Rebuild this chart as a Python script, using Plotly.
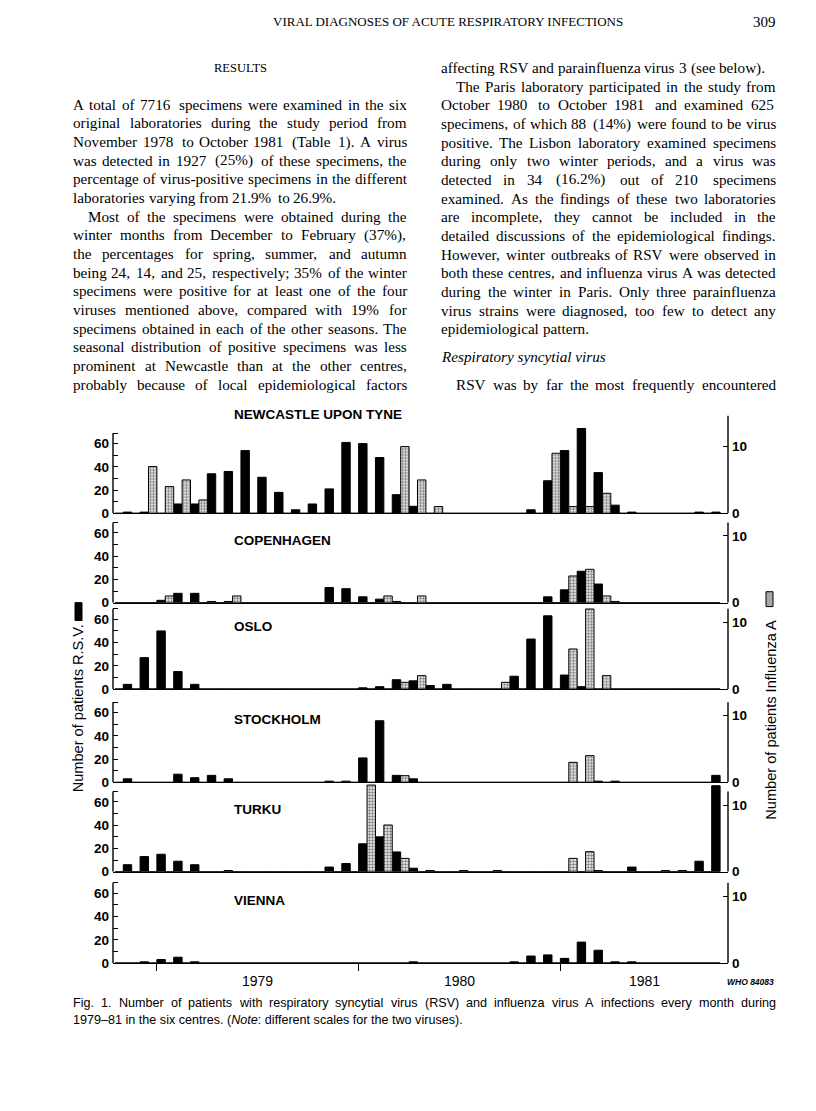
import plotly.graph_objects as go

W, H = 816, 1111

MONTH_NAMES = ["Jan", "Feb", "Mar", "Apr", "May", "Jun", "Jul", "Aug", "Sep", "Oct", "Nov", "Dec"]
MONTHS = [f"{MONTH_NAMES[(10 + i) % 12]} {1978 + (10 + i) // 12}" for i in range(36)]
YEAR_LABELS = ["1979", "1980", "1981"]

CENTRES = ["NEWCASTLE UPON TYNE", "COPENHAGEN", "OSLO", "STOCKHOLM", "TURKU", "VIENNA"]

RSV_NEWCASTLE = [1, 1, 0, 8, 8, 34, 36, 54, 31, 18, 3, 8, 21, 61, 60, 48, 16, 6, 0, 0,
                 0, 0, 0, 0, 3, 28, 54, 73, 35, 7, 1, 0, 0, 0, 1, 1]
FLU_NEWCASTLE = [0, 0, 7, 4, 5, 2, 0, 0, 0, 0, 0, 0, 0, 0, 0, 0, 0, 10, 5, 1,
                 0, 0, 0, 0, 0, 0, 9, 1, 1, 3, 0, 0, 0, 0, 0, 0]
RSV_COPENHAGEN = [0, 0, 2, 8, 8, 1, 1, 0, 0, 0, 0, 0, 13, 12, 5, 3, 1, 0, 0, 0,
                  0, 0, 0, 0, 0, 5, 11, 27, 16, 1, 0, 0, 0, 0, 0, 0]
FLU_COPENHAGEN = [0, 0, 0, 1, 0, 0, 0, 1, 0, 0, 0, 0, 0, 0, 0, 0, 1, 0, 1, 0,
                  0, 0, 0, 0, 0, 0, 0, 4, 5, 1, 0, 0, 0, 0, 0, 0]
RSV_OSLO = [4, 27, 50, 15, 4, 0, 0, 0, 0, 0, 0, 0, 0, 0, 1, 2, 8, 7, 3, 4,
            0, 0, 0, 11, 43, 63, 12, 2, 0, 0, 0, 0, 0, 0, 0, 0]
FLU_OSLO = [0, 0, 0, 0, 0, 0, 0, 0, 0, 0, 0, 0, 0, 0, 0, 0, 0, 1, 2, 0,
            0, 0, 0, 1, 0, 0, 0, 6, 12, 2, 0, 0, 0, 0, 0, 0]
RSV_STOCKHOLM = [3, 0, 0, 7, 4, 6, 3, 0, 0, 0, 0, 0, 1, 1, 21, 53, 6, 3, 0, 0,
                 0, 0, 0, 0, 0, 0, 0, 0, 1, 1, 0, 0, 0, 0, 0, 6]
FLU_STOCKHOLM = [0, 0, 0, 0, 0, 0, 0, 0, 0, 0, 0, 0, 0, 0, 0, 0, 0, 1, 0, 0,
                 0, 0, 0, 0, 0, 0, 0, 3, 4, 0, 0, 0, 0, 0, 0, 0]
RSV_TURKU = [6, 13, 15, 9, 6, 0, 1, 0, 0, 0, 0, 0, 4, 7, 24, 30, 17, 3, 1, 0,
             1, 0, 1, 0, 0, 0, 0, 0, 1, 0, 4, 0, 1, 1, 9, 74]
FLU_TURKU = [0, 0, 0, 0, 0, 0, 0, 0, 0, 0, 0, 0, 0, 0, 0, 13, 7, 2, 0, 0,
             0, 0, 0, 0, 0, 0, 0, 2, 3, 0, 0, 0, 0, 0, 0, 0]
RSV_VIENNA = [0, 1, 3, 5, 1, 0, 0, 0, 0, 0, 0, 0, 0, 0, 0, 0, 0, 1, 0, 0,
              0, 0, 0, 1, 6, 7, 4, 18, 11, 1, 1, 0, 0, 0, 0, 0]
FLU_VIENNA = [0] * 36

RSV = [RSV_NEWCASTLE, RSV_COPENHAGEN, RSV_OSLO, RSV_STOCKHOLM, RSV_TURKU, RSV_VIENNA]
FLU = [FLU_NEWCASTLE, FLU_COPENHAGEN, FLU_OSLO, FLU_STOCKHOLM, FLU_TURKU, FLU_VIENNA]

# ---------------- page text ----------------
HEADER = "VIRAL DIAGNOSES OF ACUTE RESPIRATORY INFECTIONS"
PAGE_NO = "309"
LEFT_HEAD = "RESULTS"
LEFT_LINES = [
    "A total of 7716 specimens were examined in the six",
    "original laboratories during the study period from",
    "November 1978 to October 1981 (Table 1). A virus",
    "was detected in 1927 (25%) of these specimens, the",
    "percentage of virus-positive specimens in the different",
    "laboratories varying from 21.9% to 26.9%.",
    "Most of the specimens were obtained during the",
    "winter months from December to February (37%),",
    "the percentages for spring, summer, and autumn",
    "being 24, 14, and 25, respectively; 35% of the winter",
    "specimens were positive for at least one of the four",
    "viruses mentioned above, compared with 19% for",
    "specimens obtained in each of the other seasons. The",
    "seasonal distribution of positive specimens was less",
    "prominent at Newcastle than at the other centres,",
    "probably because of local epidemiological factors",
]
LEFT_INDENT = [6]
LEFT_LAST = [5]
RIGHT_LINES = [
    "affecting RSV and parainfluenza virus 3 (see below).",
    "The Paris laboratory participated in the study from",
    "October 1980 to October 1981 and examined 625",
    "specimens, of which 88 (14%) were found to be virus",
    "positive. The Lisbon laboratory examined specimens",
    "during only two winter periods, and a virus was",
    "detected in 34 (16.2%) out of 210 specimens",
    "examined. As the findings of these two laboratories",
    "are incomplete, they cannot be included in the",
    "detailed discussions of the epidemiological findings.",
    "However, winter outbreaks of RSV were observed in",
    "both these centres, and influenza virus A was detected",
    "during the winter in Paris. Only three parainfluenza",
    "virus strains were diagnosed, too few to detect any",
    "epidemiological pattern.",
]
RIGHT_INDENT = [1]
RIGHT_LAST = [0, 14]
RIGHT_HEAD = "Respiratory syncytial virus"
RIGHT_FINAL = "RSV was by far the most frequently encountered"
CAPTION_1 = "Fig. 1. Number of patients with respiratory syncytial virus (RSV) and influenza virus A infections every month during"
CAPTION_2 = "1979\u201381 in the six centres. (<i>Note</i>: different scales for the two viruses)."

# ---------------- layout geometry (pixels) ----------------
X_LEFT, X_RIGHT = 113, 728
BASELINES = [517, 607, 694, 788, 878, 970]
PX_PER_UNIT = 1.17
Y_TOP = 85
AX_TOP = 69
FLU_RATIO = 57.4
RIGHT_TOPS = [84, 69, 69, 69, 69, 69]
X_RANGE = [-0.61, 35.97]

SANS = "Liberation Sans, Arial, sans-serif"
SERIF = "Liberation Serif, Times New Roman, serif"

# approximate advance widths (1/1000 em)
SERIF_W = {' ': 250, '!': 333, '%': 833, '(': 333, ')': 333, ',': 250, '-': 333, '.': 250, '/': 278,
           ':': 278, ';': 278, '?': 444, '\u2013': 500,
           'A': 722, 'B': 667, 'C': 667, 'D': 722, 'E': 611, 'F': 556, 'G': 722, 'H': 722, 'I': 333,
           'J': 389, 'K': 722, 'L': 611, 'M': 889, 'N': 722, 'O': 722, 'P': 556, 'Q': 722, 'R': 667,
           'S': 556, 'T': 611, 'U': 722, 'V': 722, 'W': 944, 'X': 722, 'Y': 722, 'Z': 611,
           'a': 444, 'b': 500, 'c': 444, 'd': 500, 'e': 444, 'f': 333, 'g': 500, 'h': 500, 'i': 278,
           'j': 278, 'k': 500, 'l': 278, 'm': 778, 'n': 500, 'o': 500, 'p': 500, 'q': 500, 'r': 333,
           's': 389, 't': 278, 'u': 500, 'v': 500, 'w': 722, 'x': 500, 'y': 500, 'z': 444}
SANS_W = {' ': 278, '!': 278, '%': 889, '(': 333, ')': 333, ',': 278, '-': 333, '.': 278, '/': 278,
          ':': 278, ';': 278, '\u2013': 556,
          'A': 667, 'B': 667, 'C': 722, 'D': 722, 'E': 667, 'F': 611, 'G': 778, 'H': 722, 'I': 278,
          'J': 500, 'K': 667, 'L': 556, 'M': 833, 'N': 722, 'O': 778, 'P': 667, 'Q': 778, 'R': 722,
          'S': 667, 'T': 611, 'U': 722, 'V': 667, 'W': 944, 'X': 667, 'Y': 667, 'Z': 611,
          'a': 556, 'b': 556, 'c': 500, 'd': 556, 'e': 556, 'f': 278, 'g': 556, 'h': 556, 'i': 222,
          'j': 222, 'k': 500, 'l': 222, 'm': 833, 'n': 556, 'o': 556, 'p': 556, 'q': 556, 'r': 333,
          's': 500, 't': 278, 'u': 556, 'v': 500, 'w': 722, 'x': 500, 'y': 500, 'z': 500}


def tw(s, size, table):
    s = s.replace("<i>", "").replace("</i>", "")
    return sum(table.get(c, 556) for c in s) / 1000 * size


def px(x):
    return x / W


def py(y):
    return 1 - y / H


fig = go.Figure()
idx = list(range(len(MONTHS)))
layout = dict(
    width=W, height=H, margin=dict(l=0, r=0, t=0, b=0),
    paper_bgcolor="white", plot_bgcolor="rgba(0,0,0,0)",
    showlegend=False, barmode="overlay",
    font=dict(family=SANS, color="black", size=13),
)
shapes = []
annotations = []


def ann(s, x, y, anchor="left", font=None, **kw):
    d = dict(text=s, x=px(x), y=py(y), xref="paper", yref="paper", xanchor=anchor,
             yanchor="middle", showarrow=False, borderpad=0, borderwidth=0, font=font)
    d.update(kw)
    annotations.append(d)


def line_words(s, x0, x1, y, size, family, table, justify=True, indent=0.0):
    words = s.split(" ")
    widths = [tw(w, size, table) for w in words]
    space = table[' '] / 1000 * size
    if justify and len(words) > 1:
        gap = (x1 - x0 - indent - sum(widths)) / (len(words) - 1)
        gap = max(gap, space * 0.6)
    else:
        gap = space
    x = x0 + indent
    for w, wd in zip(words, widths):
        ann(w, x, y, "left", dict(family=family, size=size, color="black"))
        x += wd + gap


TICKFONT = dict(family=SANS, size=13.5, color="black", weight="bold")

for p in range(6):
    xa = "x" if p == 0 else f"x{p + 1}"
    yl_n = 2 * p + 1
    yr_n = 2 * p + 2
    yl = "y" if yl_n == 1 else f"y{yl_n}"
    yr = f"y{yr_n}"
    b = BASELINES[p]
    dom = [py(b), py(b - Y_TOP * PX_PER_UNIT)]

    fig.add_trace(go.Bar(
        x=[i - 0.25 for i in idx], y=FLU[p], width=0.5, xaxis=xa, yaxis=yr,
        marker=dict(color="white",
                    pattern=dict(shape=".", fgcolor="black", bgcolor="white", size=3, solidity=0.55),
                    line=dict(color="black", width=1)),
        hovertext=MONTHS, name="Influenza A"))
    fig.add_trace(go.Bar(
        x=[i + 0.25 for i in idx], y=RSV[p], width=0.5, xaxis=xa, yaxis=yl,
        marker=dict(color="black", line=dict(color="black", width=1)),
        hovertext=MONTHS, name="RSV"))

    xkey = "xaxis" if p == 0 else f"xaxis{p + 1}"
    xd = dict(domain=[px(X_LEFT), px(X_RIGHT)], range=X_RANGE, anchor=yl,
              showline=True, linecolor="black", linewidth=1.4, showgrid=False,
              zeroline=False, showticklabels=False, ticks="", fixedrange=True)
    if p == 5:
        jan = [MONTHS.index(f"Jan {y}") for y in YEAR_LABELS]
        xd.update(ticks="outside", tickvals=jan, ticklen=7, tickwidth=1.4, tickcolor="black")
    layout[xkey] = xd

    ylkey = "yaxis" if yl_n == 1 else f"yaxis{yl_n}"
    layout[ylkey] = dict(
        domain=dom, range=[0, Y_TOP], anchor=xa, showgrid=False, zeroline=False,
        showline=False, ticks="inside", ticklen=5, tickwidth=1.3, tickcolor="black",
        tickvals=[0, 10, 20, 30, 40, 50, 60, AX_TOP],
        ticktext=["0", "", "20", "", "40", "", "60", ""],
        tickfont=TICKFONT, ticklabelstandoff=3)
    layout[f"yaxis{yr_n}"] = dict(
        overlaying=yl, side="right", anchor=xa, range=[0, Y_TOP * 10 / FLU_RATIO],
        showgrid=False, zeroline=False, showline=False, ticks="inside", ticklen=5,
        tickwidth=1.3, tickcolor="black", tickvals=[0, 10], ticktext=["0", "10"],
        tickfont=TICKFONT, ticklabelstandoff=3)

    shapes.append(dict(type="line", xref="paper", yref=yl, x0=px(X_LEFT), x1=px(X_LEFT),
                       y0=0, y1=AX_TOP, line=dict(color="black", width=1.4)))
    shapes.append(dict(type="line", xref="paper", yref=yl, x0=px(X_RIGHT), x1=px(X_RIGHT),
                       y0=0, y1=RIGHT_TOPS[p], line=dict(color="black", width=1.4)))

    ty = 418 if p == 0 else b - 63
    ann(f"<b>{CENTRES[p]}</b>", 234, ty, "left", dict(family=SANS, size=13.5, color="black"))

# year labels centred on each year's months
for y in YEAR_LABELS:
    ms = [i for i, m in enumerate(MONTHS) if m.endswith(y)]
    annotations.append(dict(text=y, x=sum(ms) / len(ms) + 0.5, y=py(988), xref="x6", yref="paper",
                            xanchor="center", yanchor="middle", showarrow=False,
                            font=dict(family=SANS, size=14, color="black")))
ann("<b><i>WHO 84083</i></b>", 727, 989, "left", dict(family=SANS, size=8.5, color="black"))

# axis titles and swatches
ann("Number of patients R.S.V.", 78, 713.5, "center", dict(family=SANS, size=14.6, color="black"),
    textangle=-90)
ann("Number of patients Influenza A", 771, 725, "center", dict(family=SANS, size=14.6, color="black"),
    textangle=-90)
shapes.append(dict(type="rect", xref="paper", yref="paper", x0=px(75), x1=px(82),
                   y0=py(625), y1=py(607), fillcolor="black", line=dict(color="black", width=1)))
shapes.append(dict(type="rect", xref="paper", yref="paper", x0=px(766), x1=px(773),
                   y0=py(611), y1=py(596), fillcolor="#a8a8a8", line=dict(color="black", width=1)))

# caption
CAP = 12.6
line_words(CAPTION_1, 73, 776, 1010, CAP, SANS, SANS_W, True)
ann(CAPTION_2, 73, 1027, "left", dict(family=SANS, size=CAP, color="black"))

# page text
LS = 18.8
BODY = 15.2
LCOL = (73, 407)
RCOL = (441, 776)
INDENT = 15

ann(HEADER, 448, 22, "center", dict(family=SERIF, size=13, color="black"))
ann(PAGE_NO, 776, 22, "right", dict(family=SERIF, size=15, color="black"))
ann(LEFT_HEAD, (LCOL[0] + LCOL[1]) / 2, 68, "center", dict(family=SERIF, size=12.5, color="black"))
for k, s in enumerate(LEFT_LINES):
    line_words(s, LCOL[0], LCOL[1], 105 + LS * k, BODY, SERIF, SERIF_W,
               justify=k not in LEFT_LAST, indent=INDENT if k in LEFT_INDENT else 0)
for k, s in enumerate(RIGHT_LINES):
    line_words(s, RCOL[0], RCOL[1], 68 + LS * k, BODY, SERIF, SERIF_W,
               justify=k not in RIGHT_LAST, indent=INDENT if k in RIGHT_INDENT else 0)
ann(f"<i>{RIGHT_HEAD}</i>", RCOL[0], 68 + LS * 15.5, "left", dict(family=SERIF, size=BODY, color="black"))
line_words(RIGHT_FINAL, RCOL[0], RCOL[1], 68 + LS * 17, BODY, SERIF, SERIF_W, True, INDENT)

layout["shapes"] = shapes
layout["annotations"] = annotations
fig.update_layout(**layout)
fig.write_html("out.html", config={"displayModeBar": False},
               post_script="document.body.style.margin='0px';document.body.style.overflow='hidden';")
